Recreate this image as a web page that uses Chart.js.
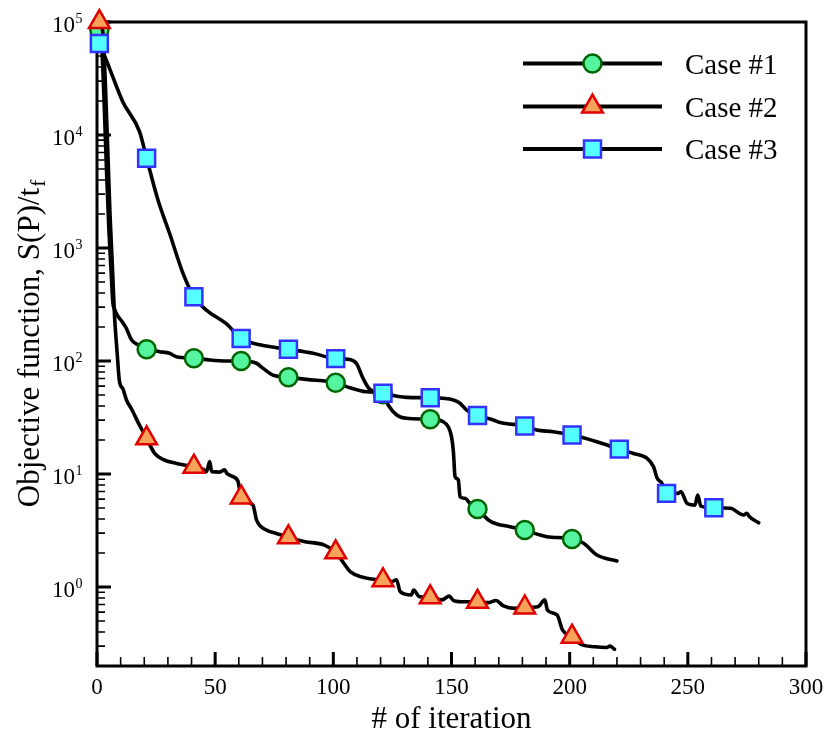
<!DOCTYPE html>
<html><head><meta charset="utf-8">
<script src="https://cdn.jsdelivr.net/npm/chart.js@4.4.0/dist/chart.umd.min.js"></script>
<style>html,body{margin:0;padding:0;background:#fff}#wrap{width:828px;height:741px}</style>
</head><body><div id="wrap"><canvas id="c" width="828" height="741"></canvas></div>
<script>
// ---- data ----
const case1Iter = [1,2,3,4,5,6,6.7,7.5,8.8,10.5,12.4,14.5,17.3,21,26.5,30.7,33.6,41,47.7,54.7,61,67.5,70.3,74.5,81,88.6,101,105.6,114,121,123.2,126.8,131,141,146.5,148.6,150,150.8,151.5,152.9,153.6,155.7,157.8,161,165.6,169.2,174.8,181,187.5,190.3,201,205.9,211.5,220];
const case1Value = [85000,60000,20000,5000,1500,600,330,285,250,225,195,155,139,127,121,117,109,106,102,100,100,95.5,86,75,71.8,68.8,64.3,59.3,53.5,50.7,40.8,33.3,31.1,30.5,29,26.2,21.4,15.8,9.5,8.85,6.3,6.1,5.5,4.9,3.92,3.61,3.42,3.19,2.88,2.79,2.66,2.44,1.92,1.70];

const case2Iter = [1,2.5,3.5,4.5,5.5,6.5,7.4,8.5,9.5,10.9,12.5,14.5,18,21,24.4,27.9,33.6,41,45,46.3,47.7,48.5,51.9,54,55,57.5,59.7,61,66,67.5,71.7,75.9,81,88,96,101,104,107.3,112,117,121,125,126.7,128.3,133,134,136.4,141,146,149,151,155.8,161,165.5,168.8,172,176.9,181,186.6,189.5,190.6,194.7,197,201,204.5,210.8,215.7,217,219];
const case2Value = [100000,80000,30000,8000,2000,700,255,120,66,57,45,38,27,20.7,15.2,13.5,12.4,11.6,11.0,10.5,12.9,10.5,10.4,10.9,10.1,9.5,8.55,6.2,5.3,3.92,3.19,2.98,2.75,2.52,2.36,2.03,1.67,1.36,1.23,1.17,1.15,1.12,1.16,0.91,0.85,0.94,0.82,0.81,0.77,0.83,0.757,0.74,0.74,0.727,0.76,0.68,0.647,0.66,0.67,0.77,0.625,0.565,0.416,0.363,0.313,0.296,0.292,0.30,0.281];

const case3Iter = [1,2.5,5.3,10.9,18,21,25.8,30.7,36.4,41,46.3,54.7,61,68.9,81,91.4,101,107,109.8,112.6,115.5,121,131,141,150.8,153.6,156.4,161,167.7,170.6,181,186,193,201,211.5,221,227,232.7,235.5,237,239,241,246,247,249.7,253,254.2,255.5,261,268,273.6,275,276,280];
const case3Value = [64600,54600,38900,19700,10700,6220,2660,1350,597,371,282,214,158,139,127,117,105,103,95,70,56,51.8,47.7,47.3,45.2,42.3,36.8,33,30.1,28.5,26.6,24.5,23.7,22.1,19.3,16.6,15.2,13.8,11.6,9.2,8.3,6.74,6.74,7.0,5.5,5.3,6.5,5.2,5.03,4.98,4.34,4.5,4.2,3.7];

const seriesLabels = ['Case #1','Case #2','Case #3'];
const xMajorTicks = [0,50,100,150,200,250,300];
const xMinorTicks = [10,20,30,40,60,70,80,90,110,120,130,140,160,170,180,190,210,220,230,240,260,270,280,290];
const xTickLabels = ['0','50','100','150','200','250','300'];
const yMajorTicks = [1,10,100,1000,10000,100000];
const yTickExponents = ['0','1','2','3','4','5'];
const yMinorMantissas = [2,3,4,5,6,7,8,9];
const yMinorDecades = [0.1,1,10,100,1000,10000];
const xTitle = '# of iteration';
const yTitleMain = 'Objective function, S(P)/t';
const yTitleSub = 'f';

// ---- styles ----
const FONT = '"Liberation Serif", "Times New Roman", serif';
const styles = [
  {pointStyle:'circle', radius:9, fill:'#55f5a0', stroke:'#006400', bw:2.5},
  {pointStyle:'triangle', radius:12, fill:'#f7a35c', stroke:'#e00000', bw:2.5},
  {pointStyle:'rect', radius:12, fill:'#55ffff', stroke:'#3333ff', bw:2.5}
];
const isMarker = ctx => ctx.raw && Math.abs(((ctx.raw.x - 1) % 20)) < 1e-9;

function mk(iter, vals, i, order){
  const s = styles[i];
  return {
    label: seriesLabels[i],
    data: iter.map((x,k)=>({x:x, y:vals[k]})),
    borderColor:'#000', borderWidth:3.6, borderJoinStyle:'round', borderCapStyle:'round',
    cubicInterpolationMode:'monotone',
    pointStyle:s.pointStyle,
    pointRadius: ctx => isMarker(ctx) ? s.radius : 0,
    pointHoverRadius: ctx => isMarker(ctx) ? s.radius : 0,
    pointBackgroundColor:s.fill, pointBorderColor:s.stroke, pointBorderWidth:s.bw,
    clip:false, order:order
  };
}

const framePlugin = {
  id:'frame',
  beforeDatasetsDraw(chart){
    const {ctx, chartArea:a, scales:{x, y}} = chart;
    ctx.save();
    ctx.strokeStyle = '#000';
    ctx.lineWidth = 1.6;
    ctx.beginPath();
    xMinorTicks.forEach(v=>{const px=x.getPixelForValue(v); ctx.moveTo(px,a.bottom); ctx.lineTo(px,a.bottom-9);});
    yMinorDecades.forEach(d=>yMinorMantissas.forEach(m=>{const val=m*d; if(val<y.min||val>y.max) return; const py=y.getPixelForValue(val); ctx.moveTo(a.left,py); ctx.lineTo(a.left+8,py);}));
    ctx.stroke();
    ctx.lineWidth = 3;
    ctx.beginPath();
    xMajorTicks.forEach(v=>{const px=x.getPixelForValue(v); ctx.moveTo(px,a.bottom); ctx.lineTo(px,a.bottom-14);});
    yMajorTicks.forEach(v=>{const py=y.getPixelForValue(v); ctx.moveTo(a.left,py); ctx.lineTo(a.left+14,py);});
    ctx.stroke();
    ctx.lineWidth = 3;
    ctx.strokeRect(a.left, a.top, a.right-a.left, a.bottom-a.top);
    ctx.restore();
  },
  afterDraw(chart){
    const {ctx, chartArea:a, scales:{x, y}} = chart;
    ctx.save();
    ctx.fillStyle = '#000';
    ctx.font = '23px ' + FONT;
    ctx.textAlign = 'center'; ctx.textBaseline = 'alphabetic';
    xMajorTicks.forEach((v,i)=>ctx.fillText(xTickLabels[i], x.getPixelForValue(v), 694));
    yMajorTicks.forEach((v,i)=>{
      const py = y.getPixelForValue(v);
      ctx.font = '23px ' + FONT; ctx.textAlign='right';
      ctx.fillText('10', 75, py+10);
      ctx.font = '14px ' + FONT; ctx.textAlign='left';
      ctx.fillText(yTickExponents[i], 75.5, py+0.5);
    });
    ctx.font = '31px ' + FONT; ctx.textAlign='center';
    ctx.fillText(xTitle, (a.left+a.right)/2, 728);
    ctx.save();
    ctx.translate(39, (a.top+a.bottom)/2);
    ctx.rotate(-Math.PI/2);
    ctx.font = '31px ' + FONT;
    const w1 = ctx.measureText(yTitleMain).width;
    ctx.font = '21px ' + FONT;
    const w2 = ctx.measureText(yTitleSub).width;
    const x0 = -(w1+w2)/2;
    ctx.textAlign='left';
    ctx.font = '31px ' + FONT;
    ctx.fillText(yTitleMain, x0, 0);
    ctx.font = '21px ' + FONT;
    ctx.fillText(yTitleSub, x0+w1+1, 6);
    ctx.restore();
    const ly = [63.5, 106.5, 149];
    seriesLabels.forEach((lab,i)=>{
      const s = styles[i];
      ctx.strokeStyle='#000'; ctx.lineWidth=3.8; ctx.lineCap='butt';
      ctx.beginPath(); ctx.moveTo(523, ly[i]); ctx.lineTo(662, ly[i]); ctx.stroke();
      ctx.fillStyle = s.fill; ctx.strokeStyle = s.stroke; ctx.lineWidth = s.bw;
      Chart.helpers.drawPoint(ctx, {pointStyle:s.pointStyle, radius:s.radius, rotation:0, borderWidth:s.bw}, 592.5, ly[i]);
      ctx.fillStyle='#000';
      ctx.font = '29px ' + FONT; ctx.textAlign='left';
      ctx.fillText(lab, 685, ly[i]+10);
    });
    ctx.restore();
  }
};

new Chart(document.getElementById('c'), {
  type:'line',
  data:{datasets:[
    mk(case3Iter, case3Value, 2, 1),
    mk(case2Iter, case2Value, 1, 2),
    mk(case1Iter, case1Value, 0, 3)
  ]},
  options:{
    responsive:false, animation:false, devicePixelRatio:1,
    layout:{padding:{top:22, right:22, left:0, bottom:0}},
    plugins:{legend:{display:false}, tooltip:{enabled:false}},
    scales:{
      x:{type:'linear', min:0, max:300,
         ticks:{display:false}, grid:{display:false}, border:{display:false},
         afterFit:s=>{s.height=75;}},
      y:{type:'logarithmic', min:0.2, max:100000,
         ticks:{display:false}, grid:{display:false}, border:{display:false},
         afterFit:s=>{s.width=97;}}
    }
  },
  plugins:[framePlugin]
});
</script></body></html>
